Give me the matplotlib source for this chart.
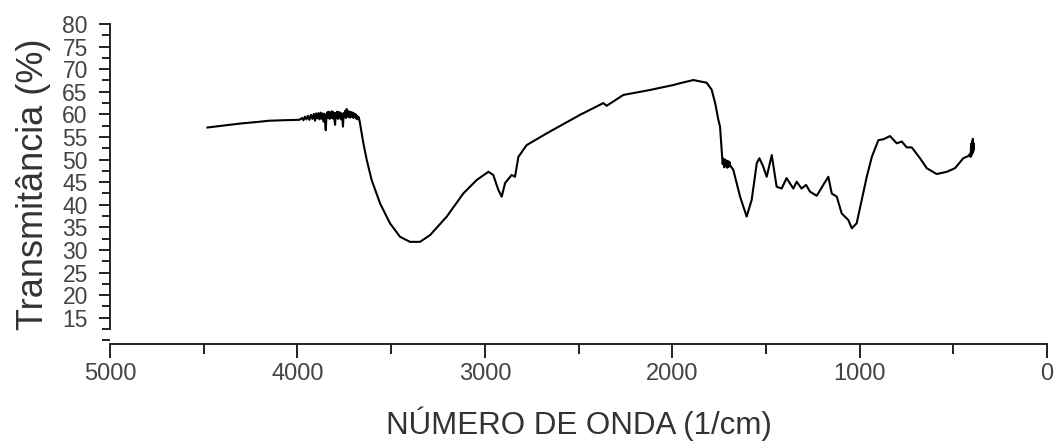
import matplotlib
matplotlib.use("Agg")
import matplotlib.pyplot as plt
from matplotlib.ticker import MultipleLocator

plt.rcParams['font.family'] = ['Liberation Sans', 'DejaVu Sans']

# Wavenumber (1/cm) and transmittance (%)
wavenumber = [
    4480, 4400, 4300, 4220, 4150, 4080, 3990,
    3975, 3968, 3960, 3952, 3944, 3936, 3928, 3920, 3913, 3906, 3900, 3894,
    3888, 3882, 3876, 3870, 3865, 3860, 3855, 3849, 3845, 3840, 3836, 3832,
    3828, 3824, 3820, 3816, 3812, 3808, 3804, 3799, 3796, 3792, 3788, 3784,
    3780, 3776, 3772, 3768, 3764, 3760, 3757, 3753, 3749, 3745, 3741, 3737,
    3733, 3729, 3725, 3721, 3717, 3713, 3709, 3705, 3701, 3697, 3693, 3689,
    3685, 3681, 3677, 3673, 3669, 3666,
    3648, 3630, 3604, 3559, 3506, 3452, 3399, 3346, 3292, 3203, 3115, 3043,
    2981, 2955, 2928, 2910, 2892, 2857, 2839, 2821, 2777, 2670, 2492, 2368,
    2350, 2261, 2119, 1994, 1958, 1887, 1850, 1816, 1790, 1771, 1754, 1745,
    1736, 1731, 1727, 1723, 1719, 1715, 1711, 1707, 1703, 1699, 1695, 1692,
    1674, 1638, 1603,
    1576, 1549, 1535, 1514, 1496, 1469, 1443, 1416, 1390, 1354, 1336, 1310,
    1286, 1265, 1229, 1194, 1167, 1149, 1122, 1096, 1060, 1042, 1016, 989,
    962, 935, 900, 873, 838, 802, 775, 749, 722, 678, 642, 589, 535, 491,
    447, 420, 412, 408, 405, 402, 400, 398, 396, 394, 392, 390,
]
transmittance = [
    57.1, 57.5, 58.0, 58.3, 58.6, 58.7, 58.8,
    59.2, 58.7, 59.5, 58.9, 59.7, 58.8, 59.9, 59.0, 60.1, 58.6, 60.2, 59.1,
    60.3, 58.9, 60.4, 59.0, 60.2, 58.4, 60.1, 56.5, 59.6, 60.5, 59.2, 60.6,
    59.0, 60.4, 59.3, 60.7, 59.1, 60.5, 59.4, 57.7, 60.3, 59.2, 60.6, 59.0,
    60.5, 59.3, 60.4, 58.9, 60.2, 59.1, 57.3, 60.3, 59.4, 60.8, 59.2, 61.2,
    59.5, 60.7, 59.4, 60.6, 59.3, 60.5, 59.6, 60.4, 59.2, 60.2, 59.4, 60.0,
    59.0, 59.7, 58.9, 59.4, 58.7, 58.0,
    53.6, 49.9, 45.5, 40.3, 35.9, 32.9, 31.8, 31.8, 33.3, 37.4, 42.5, 45.5,
    47.3, 46.6, 43.3, 41.8, 44.8, 46.6, 46.2, 50.6, 53.2, 55.8, 59.9, 62.5,
    61.9, 64.3, 65.4, 66.5, 66.9, 67.6, 67.3, 67.0, 65.5, 62.5, 58.8, 57.3,
    52.0, 49.0, 50.2, 48.3, 50.0, 48.5, 49.8, 48.2, 49.7, 48.4, 49.5, 48.8,
    47.7, 41.8, 37.4,
    41.1, 49.2, 50.3, 48.4, 46.2, 51.0, 44.0, 43.6, 45.9, 43.6, 45.1, 43.6,
    44.4, 42.9, 42.0, 44.4, 46.2, 42.5, 41.8, 38.1, 36.6, 34.8, 35.9, 41.1,
    46.2, 50.6, 54.3, 54.5, 55.2, 53.6, 54.0, 52.7, 52.7, 50.3, 48.1, 46.8,
    47.3, 48.1, 50.3, 50.8, 51.2, 50.6, 53.5, 51.0, 54.0, 51.4, 54.6, 51.8,
    53.6, 52.4,
]

x_ticks = [5000, 4000, 3000, 2000, 1000, 0]
y_ticks = [15, 20, 25, 30, 35, 40, 45, 50, 55, 60, 65, 70, 75, 80]

fig = plt.figure(figsize=(10.63, 4.46), dpi=100)
ax = fig.add_axes([0.1035, 0.2287, 0.8815, 0.7175])

ax.plot(wavenumber, transmittance, color='black', linewidth=1.5)

ax.set_xlim(5000, 0)
ax.set_ylim(9.2, 80)

ax.set_xticks(x_ticks)
ax.set_xticklabels([str(v) for v in x_ticks])
ax.xaxis.set_minor_locator(MultipleLocator(500))
ax.set_yticks(y_ticks)
ax.set_yticklabels([str(v) for v in y_ticks])
ax.yaxis.set_minor_locator(MultipleLocator(2.5))

for s in ['top', 'right']:
    ax.spines[s].set_visible(False)
ax.spines['left'].set_bounds(12.5, 80)
ax.spines['left'].set_linewidth(1.4)
ax.spines['bottom'].set_linewidth(1.4)
ax.spines['left'].set_color('#222222')
ax.spines['bottom'].set_color('#222222')

ax.tick_params(axis='x', which='major', direction='out', length=10, width=1.4,
               pad=4, labelsize=17, labelcolor='#444444', color='#222222')
ax.tick_params(axis='x', which='minor', direction='out', length=7, width=1.4,
               color='#222222')
ax.tick_params(axis='y', which='major', direction='out', length=8, width=1.4,
               pad=8, labelsize=16.5, labelcolor='#444444', color='#222222')
ax.tick_params(axis='y', which='minor', direction='out', length=6, width=1.4,
               color='#222222')

ax.set_xlabel('NÚMERO DE ONDA (1/cm)', fontsize=22.5, color='#333333', labelpad=15)
ax.set_ylabel('Transmitância (%)', fontsize=26, color='#333333', labelpad=8)

fig.savefig('out.png', dpi=100, facecolor='white')
